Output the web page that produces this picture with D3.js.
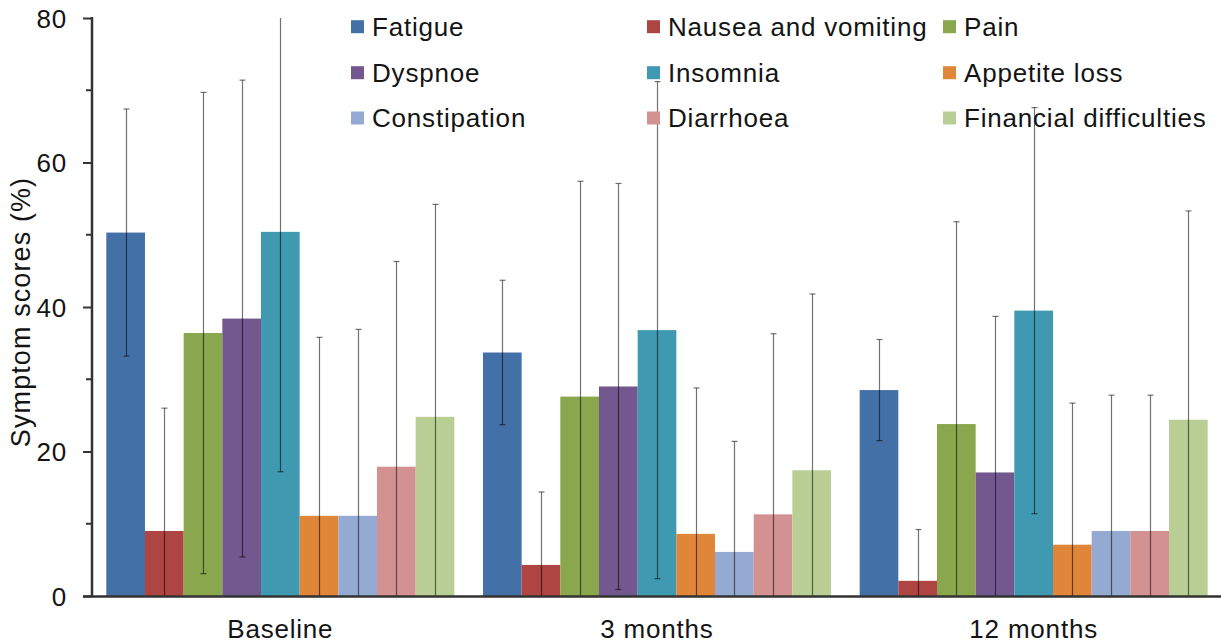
<!DOCTYPE html>
<html>
<head>
<meta charset="utf-8">
<script src="https://cdn.jsdelivr.net/npm/d3@7"></script>
<style>
  html, body { margin: 0; padding: 0; background: #fff; }
  svg { display: block; }
  text { font-family: "Liberation Sans", Arial, Helvetica, sans-serif; fill: #141414; }
</style>
</head>
<body>
<svg id="chart" width="1221" height="643"></svg>
<script>
// Time points on the x axis
const timepoints = ["Baseline", "3 months", "12 months"];

// Symptom scales (one bar per scale in each time point)
const symptoms = [
  "Fatigue", "Nausea and vomiting", "Pain",
  "Dyspnoe", "Insomnia", "Appetite loss",
  "Constipation", "Diarrhoea", "Financial difficulties"
];

const symptomColors = [
  "#4470A8", "#AE4542", "#8AA74E",
  "#72588F", "#3F99B0", "#DF8638",
  "#94AAD2", "#D49191", "#B9CE95"
];

// Mean symptom scores (%) in symptom order
const baselineMeans = [50.3, 9.0, 36.4, 38.4, 50.4, 11.1, 11.1, 17.9, 24.8];
const threeMonthMeans = [33.7, 4.3, 27.6, 29.0, 36.8, 8.6, 6.1, 11.3, 17.4];
const twelveMonthMeans = [28.5, 2.1, 23.8, 17.1, 39.5, 7.1, 9.0, 9.0, 24.4];

// Standard deviations
const baselineSD = [17.1, 17.0, 33.3, 33.0, 33.2, 24.7, 25.8, 28.4, 29.4];
const threeMonthSD = [10.0, 10.1, 29.8, 28.1, 34.4, 20.2, 15.3, 25.0, 24.4];
const twelveMonthSD = [7.0, 7.1, 28.0, 21.6, 28.1, 19.6, 18.8, 18.8, 28.9];

// Y axis ticks
const yTickLabels = [0, 20, 40, 60, 80];
const yMinorTicks = [10, 30, 50, 70];

const meansByTime = [baselineMeans, threeMonthMeans, twelveMonthMeans];
const sdByTime = [baselineSD, threeMonthSD, twelveMonthSD];

const rows = [];
timepoints.forEach((t, ti) => {
  symptoms.forEach((s, si) => {
    rows.push({ time: t, symptom: s, mean: meansByTime[ti][si], sd: sdByTime[ti][si], color: symptomColors[si] });
  });
});

const svg = d3.select("#chart");
const plotLeft = 92, plotRight = 1222, plotTop = 18, plotBottom = 596;
const yMax = 80;

const x0 = d3.scaleBand().domain(timepoints).range([plotLeft, plotRight])
  .paddingInner(0.076).paddingOuter(0.038);
const x1 = d3.scaleBand().domain(symptoms).range([0, x0.bandwidth()]).padding(0);
const y = d3.scaleLinear().domain([0, yMax]).range([plotBottom, plotTop]);

const FONT = 26;

// Bars
svg.append("g").selectAll("rect").data(rows).join("rect")
  .attr("x", d => x0(d.time) + x1(d.symptom))
  .attr("y", d => y(d.mean))
  .attr("width", x1.bandwidth())
  .attr("height", d => y(0) - y(d.mean))
  .attr("fill", d => d.color);

// Error bars (clipped to the plotted range; caps only where the bar end is inside)
const eg = svg.append("g").attr("stroke", "#000").attr("stroke-opacity", 0.55).attr("stroke-width", 1.2);
const capHalf = 3;
rows.forEach(d => {
  const cx = Math.round(x0(d.time) + x1(d.symptom) + x1.bandwidth() / 2) + 0.5;
  const lo = d.mean - d.sd, hi = d.mean + d.sd;
  const loC = Math.max(0, lo), hiC = Math.min(yMax, hi);
  eg.append("line").attr("x1", cx).attr("x2", cx).attr("y1", y(loC)).attr("y2", y(hiC));
  if (lo > 0) eg.append("line").attr("x1", cx - capHalf).attr("x2", cx + capHalf).attr("y1", y(lo)).attr("y2", y(lo));
  if (hi < yMax) eg.append("line").attr("x1", cx - capHalf).attr("x2", cx + capHalf).attr("y1", y(hi)).attr("y2", y(hi));
});

// Y axis: major ticks with labels, shorter minor ticks
const yAxis = svg.append("g").attr("transform", `translate(${plotLeft},0)`)
  .call(d3.axisLeft(y).tickValues(yTickLabels).tickSize(9).tickPadding(16).tickFormat(d3.format("d")));
yAxis.select(".domain").remove();
yAxis.selectAll(".tick line").attr("stroke", "#333").attr("stroke-width", 2);
yAxis.selectAll(".tick text").style("font-size", FONT + "px").style("letter-spacing", "0.8px")
  .attr("fill", "#141414").attr("dy", "0.35em");
svg.append("g").selectAll("line").data(yMinorTicks).join("line")
  .attr("x1", plotLeft - 6).attr("x2", plotLeft).attr("y1", d => y(d)).attr("y2", d => y(d))
  .attr("stroke", "#333").attr("stroke-width", 2);
svg.append("line").attr("x1", plotLeft).attr("x2", plotLeft).attr("y1", plotTop - 1).attr("y2", plotBottom)
  .attr("stroke", "#333").attr("stroke-width", 2.5);

// X axis line and category labels
svg.append("line").attr("x1", plotLeft - 9).attr("x2", plotRight).attr("y1", plotBottom + 0.5).attr("y2", plotBottom + 0.5)
  .attr("stroke", "#333").attr("stroke-width", 2.5);
svg.append("g").selectAll("text").data(timepoints).join("text")
  .attr("x", d => x0(d) + x0.bandwidth() / 2)
  .attr("y", 638)
  .attr("text-anchor", "middle")
  .style("font-size", FONT + "px").style("letter-spacing", "0.8px")
  .text(d => d);

// Y axis title
svg.append("text")
  .attr("transform", "translate(30,312) rotate(-90)")
  .attr("text-anchor", "middle")
  .style("font-size", "27px").style("letter-spacing", "1.1px")
  .text("Symptom scores (%)");

// Legend: three columns, three rows
const legend = svg.append("g");
const colX = [351, 647, 943], rowY = [26.7, 72.7, 118];
symptoms.forEach((s, i) => {
  const gx = colX[i % 3], gy = rowY[Math.floor(i / 3)];
  legend.append("rect").attr("x", gx).attr("y", gy - 6.5).attr("width", 13).attr("height", 13)
    .attr("fill", symptomColors[i]);
  legend.append("text").attr("x", gx + 21).attr("y", gy).attr("dy", "0.36em")
    .style("font-size", FONT + "px").style("letter-spacing", "0.8px")
    .text(s);
});
</script>
</body>
</html>
